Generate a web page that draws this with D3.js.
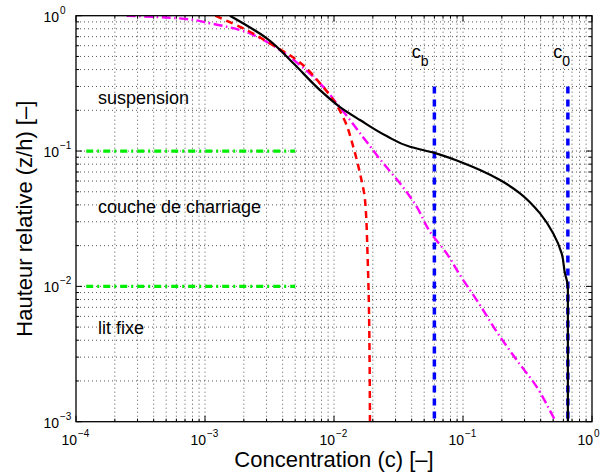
<!DOCTYPE html>
<html><head><meta charset="utf-8">
<script src="https://cdn.jsdelivr.net/npm/d3@7"></script>
<style>body{margin:0;background:#fff} text{font-family:"Liberation Sans",Arial,Helvetica,sans-serif;fill:#000}</style>
</head><body><svg id="chart" width="606" height="476"></svg>
<script>
// ---- data ----
const xTickExps = [-4, -3, -2, -1, 0];
const yTickExps = [-3, -2, -1, 0];

// total concentration profile (solid black)
const blackConc   = [0.00156, 0.00301, 0.00484, 0.00779, 0.01113, 0.0159, 0.0256, 0.0388, 0.06, 0.0948, 0.1355, 0.1935, 0.2766, 0.3954, 0.501, 0.582, 0.6175, 0.645, 0.65, 0.65];
const blackHeight = [1.0, 0.681, 0.445, 0.282, 0.2114, 0.1695, 0.129, 0.1076, 0.097, 0.0834, 0.0724, 0.0611, 0.0487, 0.0346, 0.0246, 0.01754, 0.01247, 0.0105, 0.0095, 0.001];

// red dashed profile
const redConc   = [0.0012, 0.0021, 0.00319, 0.00514, 0.00779, 0.00988, 0.0122, 0.0141, 0.0159, 0.0174, 0.01825, 0.01867, 0.0190];
const redHeight = [1.0, 0.784, 0.625, 0.471, 0.3165, 0.238, 0.165, 0.1076, 0.0684, 0.0434, 0.01565, 0.00668, 0.001];

// magenta dash-dot profile
const magentaConc   = [0.000247, 0.00064, 0.00109, 0.00187, 0.00267, 0.00381, 0.00545, 0.00779, 0.0105, 0.0133, 0.0179, 0.0241, 0.0325, 0.0437, 0.0555, 0.0747, 0.0948, 0.1355, 0.1825, 0.261, 0.3726, 0.501, 0.526];
const magentaHeight = [1.0, 0.955, 0.879, 0.784, 0.681, 0.558, 0.432, 0.3165, 0.225, 0.1695, 0.117, 0.0811, 0.0577, 0.0388, 0.0253, 0.01754, 0.01212, 0.00727, 0.00462, 0.00285, 0.00181, 0.001087, 0.001];

// layer boundaries (green)
const layerHeights = [0.1, 0.01];
const layerConcRange = [0.00012, 0.005];

// reference concentrations (blue)
const refNames = ["b", "0"];
const refConc = [0.06, 0.65];
const refLabelConc = [0.04, 0.5];
const refTop = 0.3;
const refLabelHeight = 0.49;

// region labels
const regionLabels = ["suspension", "couche de charriage", "lit fixe"];
const regionHeights = [0.2225, 0.0351, 0.00444];
const regionConc = 0.000148;

// ---- drawing ----
const svg = d3.select("#chart");
const L = 76, R = 592, T = 15.7, B = 421.7;
const x = d3.scaleLog().domain([1e-4, 1]).range([L, R]);
const y = d3.scaleLog().domain([1e-3, 1]).range([B, T]);

const defs = svg.append("defs");
defs.append("clipPath").attr("id", "clip").append("rect")
  .attr("x", L).attr("y", T).attr("width", R - L).attr("height", B - T);

// grid values
const xGrid = [], yGrid = [];
for (let e = -4; e < 0; e++) for (let m = 1; m < 10; m++) xGrid.push(m * Math.pow(10, e));
for (let e = -3; e < 0; e++) for (let m = 1; m < 10; m++) yGrid.push(m * Math.pow(10, e));

const grid = svg.append("g").attr("stroke", "#555").attr("stroke-width", 1).attr("stroke-dasharray", "1,3");
xGrid.slice(1).forEach(v => grid.append("line").attr("x1", x(v)).attr("x2", x(v)).attr("y1", T).attr("y2", B));
yGrid.slice(1).forEach(v => grid.append("line").attr("y1", y(v)).attr("y2", y(v)).attr("x1", L).attr("x2", R));

// ticks (inward, all sides)
const tk = svg.append("g").attr("stroke", "#000").attr("stroke-width", 1);
xGrid.concat([1]).forEach(v => {
  const len = (Math.abs(Math.log10(v) - Math.round(Math.log10(v))) < 1e-9) ? 6 : 3;
  tk.append("line").attr("x1", x(v)).attr("x2", x(v)).attr("y1", B).attr("y2", B - len);
  tk.append("line").attr("x1", x(v)).attr("x2", x(v)).attr("y1", T).attr("y2", T + len);
});
yGrid.concat([1]).forEach(v => {
  const len = (Math.abs(Math.log10(v) - Math.round(Math.log10(v))) < 1e-9) ? 6 : 3;
  tk.append("line").attr("y1", y(v)).attr("y2", y(v)).attr("x1", L).attr("x2", L + len);
  tk.append("line").attr("y1", y(v)).attr("y2", y(v)).attr("x1", R).attr("x2", R - len);
});

const plot = svg.append("g").attr("clip-path", "url(#clip)");
const line = d3.line().x(d => x(d[0])).y(d => y(d[1])).curve(d3.curveMonotoneY);
const zip = (a, b) => a.map((v, i) => [v, b[i]]);

// green layer lines
layerHeights.forEach(h => {
  plot.append("line").attr("x1", x(layerConcRange[0])).attr("x2", x(layerConcRange[1]))
    .attr("y1", y(h)).attr("y2", y(h))
    .attr("stroke", "#00ee00").attr("stroke-width", 3.3).attr("stroke-dasharray", "7,4,2,4");
});

// blue reference lines
refConc.forEach(c => {
  plot.append("line").attr("x1", x(c)).attr("x2", x(c)).attr("y1", y(refTop)).attr("y2", B)
    .attr("stroke", "#0000ff").attr("stroke-width", 3.5).attr("stroke-dasharray", "7,6");
});

plot.append("path").datum(zip(magentaConc, magentaHeight)).attr("d", line)
  .attr("fill", "none").attr("stroke", "#ff00ff").attr("stroke-width", 2.4).attr("stroke-dasharray", "9,3.5,1.5,3.5");
plot.append("path").datum(zip(redConc, redHeight)).attr("d", line)
  .attr("fill", "none").attr("stroke", "#ff0000").attr("stroke-width", 2.5).attr("stroke-dasharray", "7,5");
plot.append("path").datum(zip(blackConc, blackHeight)).attr("d", line)
  .attr("fill", "none").attr("stroke", "#000").attr("stroke-width", 2.2);

// box
svg.append("rect").attr("x", L).attr("y", T).attr("width", R - L).attr("height", B - T)
  .attr("fill", "none").attr("stroke", "#000").attr("stroke-width", 1.3);

// tick labels
xTickExps.forEach(e => {
  const px = x(Math.pow(10, e));
  svg.append("text").attr("x", px + 1).attr("y", 445).attr("text-anchor", "end").attr("font-size", 14).text("10");
  svg.append("text").attr("x", px + 2).attr("y", 437).attr("font-size", 10).text(e < 0 ? "\u2212" + (-e) : String(e));
});
yTickExps.forEach(e => {
  const py = y(Math.pow(10, e));
  svg.append("text").attr("x", 59).attr("y", py + 6).attr("text-anchor", "end").attr("font-size", 14).text("10");
  svg.append("text").attr("x", 60).attr("y", py - 2).attr("font-size", 10).text(e < 0 ? "\u2212" + (-e) : String(e));
});

// axis titles
svg.append("text").attr("x", (L + R) / 2).attr("y", 467).attr("text-anchor", "middle").attr("font-size", 22)
  .text("Concentration (c) [\u2013]");
svg.append("text").attr("transform", "translate(32," + ((T + B) / 2) + ") rotate(-90)")
  .attr("text-anchor", "middle").attr("font-size", 22).text("Hauteur relative (z/h) [\u2013]");

// region labels
regionLabels.forEach((t, i) => {
  svg.append("text").attr("x", x(regionConc)).attr("y", y(regionHeights[i])).attr("font-size", 18).text(t);
});

// reference labels
refNames.forEach((n, i) => {
  const t = svg.append("text").attr("x", x(refLabelConc[i])).attr("y", y(refLabelHeight)).attr("font-size", 18);
  t.append("tspan").text("c");
  t.append("tspan").attr("dy", 8).attr("font-size", 14).text(n);
});
</script>
</body></html>
